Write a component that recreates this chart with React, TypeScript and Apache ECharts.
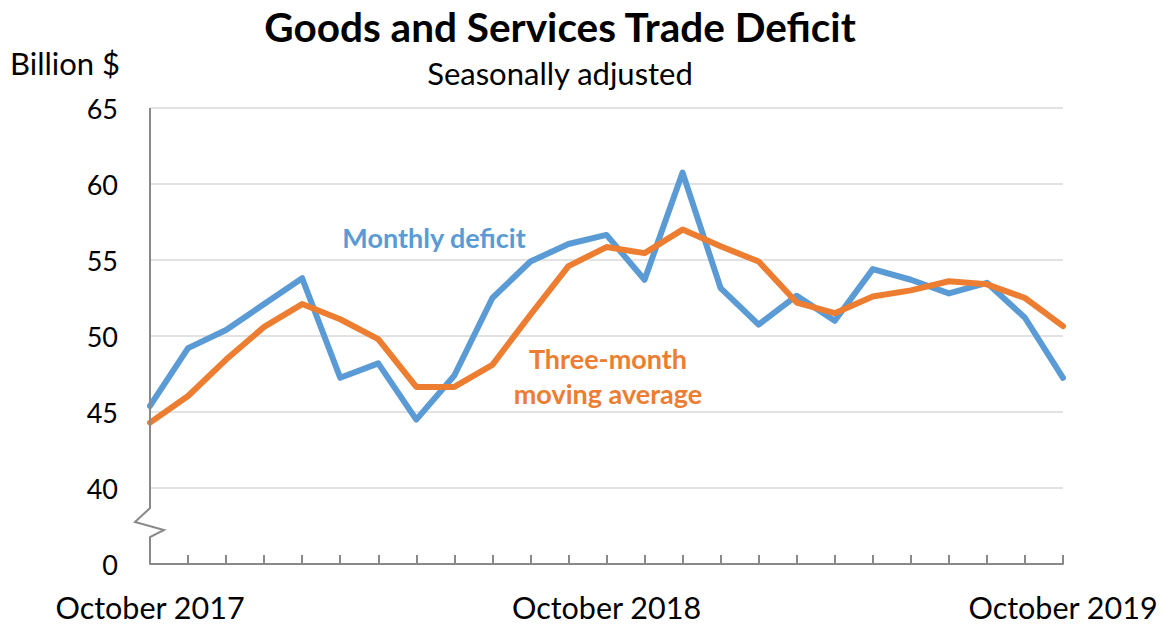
import React, { useEffect, useRef } from "react";
import * as echarts from "echarts";

const months = [
  "October 2017", "November 2017", "December 2017", "January 2018", "February 2018",
  "March 2018", "April 2018", "May 2018", "June 2018", "July 2018", "August 2018",
  "September 2018", "October 2018", "November 2018", "December 2018", "January 2019",
  "February 2019", "March 2019", "April 2019", "May 2019", "June 2019", "July 2019",
  "August 2019", "September 2019", "October 2019",
];

const monthlyDeficit = [
  45.4, 49.2, 50.4, 52.1, 53.8, 47.25, 48.2, 44.5, 47.4, 52.5, 54.9, 56.05, 56.65,
  53.7, 60.75, 53.15, 50.75, 52.65, 51.0, 54.4, 53.7, 52.8, 53.5, 51.2, 47.25,
];

const movingAverage = [
  44.3, 46.05, 48.45, 50.6, 52.1, 51.1, 49.8, 46.65, 46.65, 48.1, 51.4, 54.6, 55.85,
  55.45, 57.0, 55.9, 54.9, 52.2, 51.5, 52.6, 53.0, 53.6, 53.4, 52.5, 50.65,
];

// axis value 35 stands for the broken-off 0
const yTickValues = [35, 40, 45, 50, 55, 60, 65];
const yTickLabels = ["0", "40", "45", "50", "55", "60", "65"];

const FONT = "Lato, 'Noto Sans', sans-serif";
const BLUE = "#5B9BD5";
const ORANGE = "#ED7D31";
const AXIS = "#898989";

export default function App() {
  const ref = useRef<HTMLDivElement>(null);

  useEffect(() => {
    if (!ref.current) return;
    const chart = echarts.init(ref.current, undefined, { renderer: "svg" });
    chart.setOption({
      animation: false,
      backgroundColor: "#ffffff",
      grid: { left: 150, right: 100, top: 108, bottom: 60, containLabel: false },
      xAxis: {
        type: "category",
        data: months,
        boundaryGap: false,
        axisLine: { show: true, lineStyle: { color: AXIS, width: 2 } },
        axisTick: {
          show: true,
          inside: true,
          length: 9,
          interval: 0,
          lineStyle: { color: AXIS, width: 2 },
        },
        axisLabel: {
          interval: (i: number) => i % 12 === 0,
          color: "#000",
          fontFamily: FONT,
          fontSize: 30.5,
          margin: 27,
        },
        splitLine: { show: false },
      },
      yAxis: {
        type: "value",
        min: 35,
        max: 65,
        interval: 5,
        axisLine: { show: false },
        axisTick: { show: false },
        axisLabel: {
          color: "#000",
          fontFamily: FONT,
          fontSize: 27,
          margin: 32,
          formatter: (v: number) => {
            const i = yTickValues.indexOf(v);
            return i >= 0 ? yTickLabels[i] : "";
          },
        },
        splitLine: { show: true, lineStyle: { color: "#d9d9d9", width: 1.5 } },
      },
      series: [
        {
          name: "Monthly deficit",
          type: "line",
          data: monthlyDeficit,
          showSymbol: false,
          lineStyle: { color: BLUE, width: 6, join: "round", cap: "round" },
          z: 2,
        },
        {
          name: "Three-month moving average",
          type: "line",
          data: movingAverage,
          showSymbol: false,
          lineStyle: { color: ORANGE, width: 6, join: "round", cap: "round" },
          z: 3,
        },
      ],
    });

    const top = chart.convertToPixel({ xAxisIndex: 0, yAxisIndex: 0 }, [0, 65]) as number[];
    const p40 = chart.convertToPixel({ xAxisIndex: 0, yAxisIndex: 0 }, [0, 40]) as number[];
    const bottom = chart.convertToPixel({ xAxisIndex: 0, yAxisIndex: 0 }, [0, 35]) as number[];
    const x0 = top[0];
    const yb = p40[1];

    chart.setOption({
      graphic: [
        {
          type: "polyline",
          z: 10,
          shape: {
            points: [
              [x0, top[1]],
              [x0, yb + 20],
              [x0 - 15, yb + 34],
              [x0 + 14, yb + 42],
              [x0, yb + 49],
              [x0, bottom[1]],
            ],
          },
          style: { stroke: AXIS, lineWidth: 2, fill: null },
        },
        {
          type: "text",
          x: 560,
          y: 26,
          style: {
            text: "Goods and Services Trade Deficit",
            fontFamily: FONT,
            fontWeight: "bold",
            fontSize: 40.5,
            fill: "#000",
            align: "center",
            verticalAlign: "middle",
          },
        },
        {
          type: "text",
          x: 560,
          y: 73,
          style: {
            text: "Seasonally adjusted",
            fontFamily: FONT,
            fontSize: 31,
            fill: "#000",
            align: "center",
            verticalAlign: "middle",
          },
        },
        {
          type: "text",
          x: 10,
          y: 63,
          style: {
            text: "Billion $",
            fontFamily: FONT,
            fontSize: 31,
            fill: "#000",
            align: "left",
            verticalAlign: "middle",
          },
        },
        {
          type: "text",
          x: 434,
          y: 237,
          style: {
            text: "Monthly deficit",
            fontFamily: FONT,
            fontWeight: "bold",
            fontSize: 27,
            fill: BLUE,
            align: "center",
            verticalAlign: "middle",
          },
        },
        {
          type: "text",
          x: 608,
          y: 358,
          style: {
            text: "Three-month",
            fontFamily: FONT,
            fontWeight: "bold",
            fontSize: 27,
            fill: ORANGE,
            align: "center",
            verticalAlign: "middle",
          },
        },
        {
          type: "text",
          x: 608,
          y: 393,
          style: {
            text: "moving average",
            fontFamily: FONT,
            fontWeight: "bold",
            fontSize: 27,
            fill: ORANGE,
            align: "center",
            verticalAlign: "middle",
          },
        },
      ],
    });

    return () => chart.dispose();
  }, []);

  return (
    <div
      ref={ref}
      style={{ position: "absolute", left: 0, top: 0, width: 1163, height: 624 }}
    />
  );
}
